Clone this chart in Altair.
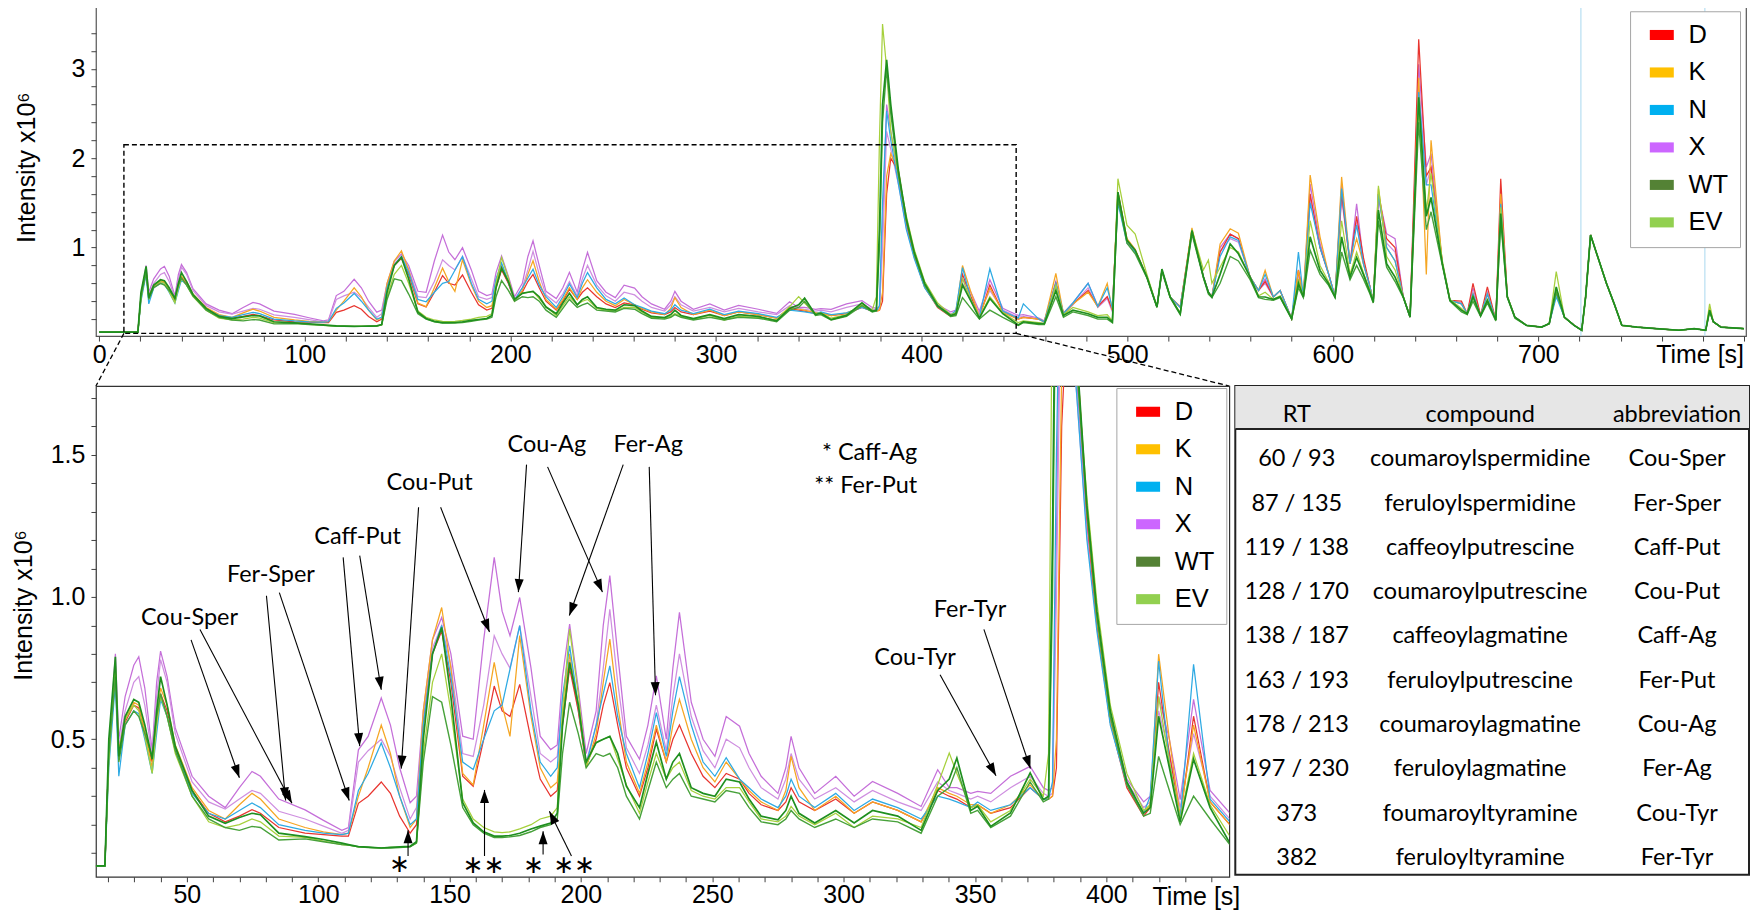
import math
import altair as alt
import pandas as pd

# ---------------- chromatogram data (time in s, intensity in 1e6) ----------------
T = [0, 10, 18.8, 20.3, 22.8, 24.1, 26.5, 29.8, 31.7, 34,
     36.8, 38.5, 40, 42.5, 45.6, 52, 58.3, 64.6, 70, 74.8,
     78, 85, 95, 102, 109, 111.5, 115.3, 119, 124, 127.5,
     131, 135, 137.4, 140, 143.5, 147, 150.5, 155, 159, 163,
     167, 170, 173, 176.7, 181, 184.5, 188.5, 191, 193, 195.7,
     199, 202, 205.8, 208.5, 211, 214, 217.3, 222.3, 225.5, 228.7,
     232.5, 235, 237.5, 242, 246.5, 251, 255.3, 260.4, 264, 268.6,
     275, 278, 280, 283, 289, 297, 304, 311, 320.6, 329.5,
     335.8, 340.2, 343.1, 348.4, 351, 356, 363.5, 371, 376, 378,
     379.5, 381, 383, 385, 388.8, 392.6, 396.4, 401.5, 407.8, 414.2,
     416.7, 419.9, 424, 428.1, 433.2, 439.5, 447, 449.5, 457, 459.7,
     465.3, 469, 473.6, 481, 485.7, 490.3, 492.8, 495.5, 499.9, 503.9,
     509.6, 514.5, 516.9, 520.9, 525.8, 531.5, 537.1, 539.5, 541.2, 545.2,
     550.1, 554.1, 559.8, 563.9, 567.1, 571.1, 574.4, 580, 583.3, 585.7,
     589, 593.8, 597.9, 601.1, 604.3, 608.4, 611.6, 614.9, 618.1, 619.7,
     622.2, 626.2, 630.3, 634.3, 637.6, 641.8, 645.5, 647.8, 653.3, 657,
     662.6, 665.4, 668.2, 671.9, 675.2, 679.3, 681.7, 684.9, 688.6, 694.2,
     701.6, 705.3, 708.7, 712.7, 717.4, 721.1, 723, 725.4, 729.4, 733.1,
     736.9, 740.6, 748, 757.3, 768.4, 775.8, 781.4, 783.3, 785.1, 788.8,
     800]

D = [.055, .055, .055, .45, .72, .45, .56, .62, .61, .52,
     .42, .55, .66, .60, .47, .32, .24, .21, .23, .253,
     .24, .19, .17, .165, .16, .16, .275, .30, .35, .31,
     .23, .17, .20, .55, .80, .88, .70, .37, .335, .50,
     .687, .60, .58, .693, .50, .36, .30, .32, .55, .75,
     .60, .406, .50, .62, .699, .55, .40, .30, .40, .535,
     .42, .50, .55, .45, .37, .33, .38, .36, .31, .27,
     .25, .28, .33, .28, .25, .29, .24, .28, .25, .21,
     .32, .30, .29, .26, .27, .24, .26, .33, .29, .29,
     .30, .40, 1.6, 2.0, 1.85, 1.28, .90, .56, .33, .23,
     .26, .70, .45, .22, .581, .28, .20, .22, .20, .17,
     .60, .26, .37, .52, .34, .45, .30, 1.62, 1.08, .97,
     .67, .335, .745, .447, .335, 1.19, .67, .50, .447, .95,
     1.15, 1.10, .67, .52, .62, .447, .52, .205, .745, .447,
     1.60, 1.00, .71, .447, 1.60, .82, 1.35, .89, .56, .39,
     1.60, 1.10, 1.00, .447, .224, 3.33, 1.80, 1.90, .82, .41,
     .40, .26, .60, .24, .56, .19, 1.77, .45, .22, .13,
     .11, .15, .50, .22, .13, .075, .45, 1.14, .86, .60,
     .37, .13, .11, .093, .075, .093, .075, .30, .17, .11,
     .093]

K = [.055, .055, .055, .45, .74, .46, .57, .63, .62, .53,
     .40, .56, .68, .62, .48, .33, .25, .22, .27, .31,
     .29, .22, .19, .175, .165, .17, .30, .40, .55, .45,
     .30, .19, .22, .60, .85, .963, .75, .38, .34, .55,
     .77, .62, .51, .864, .58, .40, .33, .35, .58, .80,
     .62, .40, .52, .70, .852, .62, .42, .31, .42, .55,
     .42, .55, .64, .50, .40, .35, .42, .36, .32, .28,
     .25, .32, .44, .33, .25, .30, .24, .28, .25, .21,
     .33, .31, .30, .27, .27, .24, .27, .34, .29, .29,
     .30, .50, 1.8, 2.05, 1.85, 1.3, .92, .56, .34, .24,
     .27, .799, .50, .23, .55, .28, .20, .22, .20, .17,
     .71, .26, .37, .50, .34, .60, .30, 1.62, 1.10, .98,
     .67, .335, .745, .447, .335, 1.22, .67, .50, .447, 1.04,
     1.21, 1.16, .67, .52, .745, .447, .52, .205, .745, .447,
     1.81, 1.12, .71, .447, 1.79, .82, 1.10, .82, .56, .39,
     1.66, 1.00, .85, .447, .224, 2.90, .70, 2.20, .82, .41,
     .37, .26, .48, .24, .48, .19, 1.60, .45, .22, .13,
     .11, .15, .50, .22, .13, .075, .45, 1.14, .86, .60,
     .37, .13, .11, .093, .075, .093, .075, .32, .17, .11,
     .093]

N = [.055, .055, .055, .40, .70, .37, .55, .60, .59, .50,
     .38, .52, .64, .58, .46, .31, .24, .22, .25, .276,
     .26, .20, .18, .17, .165, .17, .32, .38, .487, .40,
     .30, .20, .22, .55, .80, .90, .72, .42, .394, .50,
     .60, .62, .746, .899, .60, .42, .37, .40, .65, .828,
     .62, .41, .55, .66, .758, .58, .45, .33, .45, .594,
     .44, .60, .72, .55, .42, .37, .435, .36, .33, .29,
     .26, .30, .36, .30, .26, .31, .25, .29, .26, .22,
     .30, .29, .28, .26, .28, .25, .27, .33, .29, .29,
     .35, 1.5, 2.53, 2.2, 1.7, 1.2, .88, .55, .34, .24,
     .30, .775, .42, .22, .763, .29, .21, .37, .20, .17,
     .60, .26, .38, .60, .34, .55, .32, 1.50, 1.05, .95,
     .67, .335, .745, .447, .33, 1.17, .67, .50, .447, .90,
     1.12, 1.08, .67, .52, .70, .447, .52, .205, .95, .447,
     1.50, 1.00, .71, .447, 1.66, .82, 1.25, .82, .56, .39,
     1.60, 1.00, .85, .447, .224, 2.74, 1.70, 1.70, .82, .41,
     .37, .26, .48, .24, .48, .19, 1.49, .45, .22, .13,
     .11, .15, .45, .22, .13, .075, .45, 1.14, .86, .60,
     .37, .13, .11, .093, .075, .093, .075, .30, .17, .11,
     .093]

X = [.055, .055, .055, .45, .80, .50, .65, .76, .79, .68,
     .46, .70, .81, .72, .54, .37, .30, .26, .33, .387,
     .37, .29, .252, .215, .18, .19, .463, .51, .645, .55,
     .40, .277, .30, .60, .85, .928, .80, .511, .50, .85,
     1.139, .95, .864, .998, .75, .511, .464, .48, .72, .905,
     .68, .45, .60, .90, 1.075, .80, .51, .43, .55, .723,
     .50, .75, .946, .63, .50, .44, .58, .546, .45, .37,
     .31, .40, .51, .40, .31, .37, .30, .352, .31, .264,
     .393, .33, .33, .31, .317, .31, .37, .405, .33, .32,
     .33, 1.2, 2.6, 2.3, 1.75, 1.25, .92, .58, .36, .28,
     .30, .65, .50, .288, .64, .32, .241, .25, .21, .18,
     .62, .27, .38, .60, .35, .45, .30, 1.60, 1.08, .97,
     .67, .335, .745, .447, .34, 1.19, .67, .50, .447, 1.00,
     1.15, 1.10, .67, .52, .65, .447, .52, .205, .75, .447,
     1.71, 1.05, .71, .447, 1.70, .82, 1.49, .85, .56, .39,
     1.60, 1.155, 1.10, .447, .224, 3.05, 1.90, 2.05, .82, .41,
     .38, .26, .55, .24, .50, .19, 1.55, .45, .22, .13,
     .11, .15, .50, .22, .13, .075, .45, 1.14, .86, .60,
     .37, .13, .11, .093, .075, .093, .075, .30, .17, .11,
     .093]

X2 = [.055, .055, .055, .45, .76, .47, .60, .70, .72, .62,
      .44, .65, .78, .70, .52, .35, .28, .255, .29, .32,
      .31, .247, .22, .195, .17, .18, .42, .46, .50, .44,
      .33, .22, .26, .58, .82, .90, .76, .45, .44, .62,
      .864, .80, .75, .90, .65, .45, .42, .44, .65, .78,
      .60, .42, .55, .75, .957, .70, .47, .38, .48, .62,
      .46, .65, .80, .58, .46, .40, .50, .47, .40, .33,
      .29, .36, .45, .36, .29, .33, .28, .32, .28, .25,
      .35, .32, .31, .29, .30, .28, .33, .37, .31, .30,
      .31, 1.0, 2.3, 2.1, 1.7, 1.22, .90, .56, .35, .26,
      .28, .60, .45, .26, .52, .30, .22, .23, .20, .17,
      .58, .26, .36, .55, .33, .43, .28, 1.58, 1.06, .95,
      .67, .335, .745, .447, .33, 1.17, .67, .50, .447, .95,
      1.10, 1.06, .67, .52, .60, .447, .52, .205, .70, .447,
      1.55, 1.00, .71, .447, 1.55, .82, 1.30, .82, .56, .39,
      1.55, 1.05, .95, .447, .224, 2.85, 1.70, 1.90, .82, .41,
      .37, .26, .50, .24, .48, .19, 1.49, .45, .22, .13,
      .11, .15, .48, .22, .13, .075, .45, 1.14, .86, .60,
      .37, .13, .11, .093, .075, .093, .075, .30, .17, .11,
      .093]

WT = [.055, .055, .055, .50, .79, .44, .58, .64, .63, .55,
      .43, .60, .72, .62, .475, .32, .23, .205, .225, .24,
      .235, .17, .158, .148, .135, .13, .123, .121, .118, .12,
      .122, .124, .14, .50, .80, .893, .65, .277, .206, .175,
      .16, .16, .162, .17, .185, .195, .206, .24, .55, .77,
      .62, .42, .488, .50, .51, .45, .335, .26, .38, .49,
      .36, .42, .45, .33, .31, .30, .36, .35, .29, .23,
      .217, .25, .30, .24, .206, .25, .206, .25, .23, .18,
      .32, .36, .434, .25, .265, .194, .241, .382, .288, .30,
      1.2, 2.6, 3.1, 2.6, 1.85, 1.32, .95, .60, .35, .24,
      .26, .581, .40, .21, .43, .26, .135, .17, .15, .15,
      .52, .24, .30, .26, .22, .22, .168, 1.62, 1.08, .97,
      .67, .335, .76, .447, .26, 1.19, .67, .50, .447, .70,
      1.04, .93, .67, .45, .447, .42, .45, .205, .60, .447,
      1.12, .745, .60, .447, 1.12, .67, .89, .70, .50, .39,
      1.42, .82, .67, .447, .224, 2.68, 1.35, 1.56, .82, .41,
      .30, .26, .45, .24, .41, .19, 1.38, .45, .22, .13,
      .11, .15, .56, .22, .13, .075, .45, 1.14, .86, .60,
      .37, .13, .11, .093, .075, .093, .075, .30, .17, .11,
      .093]

WT2 = [.055, .055, .055, .45, .72, .42, .55, .60, .58, .52,
       .44, .58, .66, .58, .46, .30, .22, .19, .18, .194,
       .19, .146, .15, .14, .13, .128, .122, .12, .118, .118,
       .12, .122, .135, .42, .65, .63, .48, .26, .20, .17,
       .155, .155, .157, .162, .175, .19, .20, .22, .45, .63,
       .52, .40, .45, .44, .45, .40, .30, .22, .32, .42,
       .33, .36, .38, .30, .29, .28, .32, .31, .26, .21,
       .20, .22, .25, .22, .19, .22, .19, .22, .21, .17,
       .30, .33, .40, .24, .25, .19, .23, .35, .28, .29,
       1.0, 2.4, 3.0, 2.5, 1.8, 1.3, .93, .58, .34, .23,
       .24, .44, .32, .20, .30, .22, .13, .16, .14, .14,
       .45, .22, .28, .24, .20, .20, .16, 1.55, 1.05, .93,
       .66, .33, .73, .44, .25, 1.15, .66, .48, .44, .60,
       .90, .85, .64, .44, .42, .41, .44, .20, .55, .44,
       .97, .70, .58, .44, .95, .64, .80, .65, .48, .38,
       1.30, .78, .62, .44, .22, 2.40, 1.20, 1.40, .80, .40,
       .28, .25, .40, .23, .38, .18, 1.30, .44, .21, .13,
       .11, .15, .50, .22, .13, .075, .45, 1.14, .86, .60,
       .37, .13, .11, .093, .075, .093, .075, .28, .17, .11,
       .093]

EV = [.055, .055, .055, .42, .76, .45, .57, .62, .60, .51,
      .38, .55, .65, .58, .45, .30, .21, .19, .20, .22,
      .21, .16, .155, .142, .13, .128, .122, .12, .118, .12,
      .121, .124, .135, .45, .70, .80, .60, .29, .22, .19,
      .175, .172, .175, .185, .20, .22, .23, .26, .60, .887,
      .66, .41, .49, .50, .51, .43, .34, .24, .35, .45,
      .36, .40, .42, .32, .30, .29, .33, .33, .28, .22,
      .21, .23, .264, .23, .20, .24, .19, .23, .22, .19,
      .34, .452, .38, .26, .27, .21, .25, .36, .30, .45,
      2.2, 3.5, 3.0, 2.3, 1.8, 1.35, .98, .62, .38, .25,
      .27, .65, .42, .22, .45, .27, .16, .18, .16, .15,
      .58, .25, .33, .28, .24, .25, .18, 1.77, 1.25, 1.15,
      .70, .34, .75, .45, .27, 1.20, .75, .86, .60, .78,
      1.00, .95, .67, .46, .50, .42, .46, .21, .65, .45,
      1.30, .80, .62, .45, 1.30, .70, .95, .72, .52, .40,
      1.69, .90, .75, .45, .23, 2.60, 1.40, 1.83, .85, .42,
      .32, .26, .45, .24, .42, .19, 1.45, .46, .22, .13,
      .11, .15, .73, .22, .13, .075, .45, 1.14, .86, .60,
      .37, .13, .11, .093, .075, .093, .075, .37, .17, .11,
      .093]

GROUPS = ["D", "K", "N", "X", "WT", "EV"]
LEGEND_COLORS = ["#ff0000", "#ffc000", "#00b0f0", "#cc66ff", "#548235", "#92d050"]

SERIES = ["X", "X2", "D", "K", "N", "EV", "WT2", "WT"]
SERIES_COLORS = ["#c56fd9", "#cf8fe0", "#e8352f", "#f5a623", "#2eaae3", "#a6d03c", "#47a13a", "#1f8f1f"]
NONGREEN = ["X", "X2", "D", "K", "N"]
GREEN = ["EV", "WT2", "WT"]

# annotation data (bottom panel)
ANN_CENTER = [("Cou-Sper", 51.0, 0.927), ("Fer-Sper", 82.0, 1.077), ("Caff-Put", 115.0, 1.21),
              ("Cou-Put", 142.4, 1.40), ("Cou-Ag", 187.0, 1.534), ("Fer-Ag", 225.6, 1.534),
              ("Cou-Tyr", 327.2, 0.786), ("Fer-Tyr", 348.1, 0.953)]
ANN_STARS = [("∗", 131.0, 0.062), ("∗∗", 163.0, 0.058), ("∗", 182.0, 0.058), ("∗∗", 197.5, 0.058)]
ANN_RIGHT = [("* Caff-Ag", 328.0, 1.505), ("** Fer-Put", 328.0, 1.391)]
ARROWS = [(51.6, 0.849, 70.0, 0.365), (55.0, 0.886, 90.0, 0.275),
          (80.3, 1.004, 87.6, 0.285), (85.2, 1.015, 111.8, 0.285),
          (109.5, 1.139, 115.8, 0.476), (115.8, 1.145, 124.0, 0.674),
          (138.2, 1.315, 131.6, 0.397), (146.6, 1.315, 165.2, 0.877),
          (134.2, 0.09, 134.2, 0.18), (163.3, 0.09, 163.3, 0.322),
          (185.6, 0.095, 185.6, 0.177), (196.4, 0.09, 188.0, 0.247),
          (179.3, 1.465, 176.2, 1.017), (187.3, 1.457, 208.2, 1.017),
          (216.1, 1.465, 195.6, 0.935), (226.0, 1.457, 228.4, 0.655),
          (336.7, 0.727, 358.0, 0.372), (353.4, 0.886, 371.1, 0.397)]

# table
HEADER = ["RT", "compound", "abbreviation"]
RT = ["60 / 93", "87 / 135", "119 / 138", "128 / 170", "138 / 187",
      "163 / 193", "178 / 213", "197 / 230", "373", "382"]
COMPOUND = ["coumaroylspermidine", "feruloylspermidine", "caffeoylputrescine",
            "coumaroylputrescine", "caffeoylagmatine", "feruloylputrescine",
            "coumaroylagmatine", "feruloylagmatine", "foumaroyltyramine", "feruloyltyramine"]
ABBR = ["Cou-Sper", "Fer-Sper", "Caff-Put", "Cou-Put", "Caff-Ag",
        "Fer-Put", "Cou-Ag", "Fer-Ag", "Cou-Tyr", "Fer-Tyr"]

# ---------------- layout ----------------
TOP_W, TOP_H = 1651, 331
BOT_W, BOT_H = 1134, 491
TAB_W, TAB_H = 514, 489
VSPACE, HSPACE = 50, 6

TOP_X = [-1.6, 801.0]
TOP_Y = [0.01, 3.71]
BOT_X = [15.4, 446.8]
BOT_Y = [0.017, 1.741]

top_ppu = TOP_H / (TOP_Y[1] - TOP_Y[0])
bot_ppx = BOT_W / (BOT_X[1] - BOT_X[0])
bot_ppu = BOT_H / (BOT_Y[1] - BOT_Y[0])

AXFONT = "Liberation Sans"
ANNFONT = "Lato"
RECT = "M-1,-0.42H1V0.42H-1Z"

series_vals = {"D": D, "K": K, "N": N, "X": X, "X2": X2, "WT": WT, "WT2": WT2, "EV": EV}
rows = []
for s in SERIES:
    vals = series_vals[s]
    assert len(vals) == len(T), (s, len(vals), len(T))
    for t, v in zip(T, vals):
        rows.append({"t": t, "v": v, "series": s,
                     "sw": 1.7 if s == "WT" else (1.4 if s == "WT2" else 1.25)})
df = pd.DataFrame(rows)

stroke_scale = alt.Scale(domain=SERIES, range=SERIES_COLORS)


def legend_def(lx, ly):
    return alt.Legend(title=None, orient="none", legendX=lx, legendY=ly,
                      fillColor="white", strokeColor="#a6a6a6", padding=11,
                      symbolType=RECT, symbolSize=576, symbolStrokeWidth=0,
                      symbolOffset=8, labelOffset=14, rowPadding=10.5,
                      labelFontSize=25.5, labelFont=AXFONT, labelColor="black",
                      symbolOpacity=1)


def panel(xdom, ydom, xvals, xlabel_expr, yvals, ylabel_expr, title_pad, title_y, legend):
    xs = alt.Scale(domain=xdom, nice=False, zero=False)
    ys = alt.Scale(domain=ydom, nice=False, zero=False)
    xaxis = alt.Axis(values=xvals, labelExpr=xlabel_expr, labelFontSize=25, labelFont=AXFONT,
                     labelColor="black", tickSize=5, labelPadding=1, tickColor="#404040",
                     domain=False, grid=False, title=None, labelFlush=False, labelOverlap=False)
    yaxis = alt.Axis(values=yvals, labelExpr=ylabel_expr, labelFontSize=25, labelFont=AXFONT,
                     labelColor="black", tickSize=5, labelPadding=6, tickColor="#404040",
                     domain=False, grid=False, title="Intensity x10⁶", titleFont=AXFONT,
                     titleFontSize=25, titleFontWeight="normal", titleColor="black",
                     titlePadding=title_pad, titleY=title_y, labelOverlap=False)

    def ex(f="t"):
        return alt.X(f + ":Q", scale=xs, axis=xaxis)

    def ey(f="v"):
        return alt.Y(f + ":Q", scale=ys, axis=yaxis)

    layers = []
    for subset in (NONGREEN, GREEN):
        layers.append(alt.Chart(df[df.series.isin(subset)]).mark_line(clip=True).encode(
            x=ex(), y=ey(),
            stroke=alt.Stroke("series:N", scale=stroke_scale, legend=None),
            strokeWidth=alt.StrokeWidth("sw:Q", scale=None, legend=None),
        ))
    dummy = pd.DataFrame({"group": GROUPS, "t": [xdom[0] + 5] * 6, "v": [ydom[0] + 0.001] * 6})
    layers.append(alt.Chart(dummy).mark_point(clip=True, filled=True, shape=RECT, size=1,
                                              opacity=0).encode(
        x=ex(), y=ey(),
        color=alt.Color("group:N", scale=alt.Scale(domain=GROUPS, range=LEGEND_COLORS), legend=legend),
    ))
    return layers, ex, ey


# ---------------- top panel ----------------
top_layers, tex, tey = panel(
    TOP_X, TOP_Y, list(range(0, 801, 20)),
    "datum.value % 100 === 0 && datum.value <= 700 ? datum.label : ''",
    [round(0.2 * k, 1) for k in range(1, 18)],
    "abs(datum.value - round(datum.value)) < 1e-6 ? format(datum.value, 'd') : ''",
    32, 162, legend_def(1535, 6))

vlines = pd.DataFrame({"t": [720.7, 781.0]})
top_layers.insert(0, alt.Chart(vlines).mark_rule(color="#a9d8ef", strokeWidth=1).encode(x=tex()))

zoom_box = pd.DataFrame({"t": [12.0], "t2": [446.0], "v": [0.04], "v2": [2.15]})
top_layers.append(alt.Chart(zoom_box).mark_rect(filled=False, stroke="black", strokeWidth=1.4,
                                                strokeDash=[5, 3]).encode(
    x=tex(), x2="t2:Q", y=tey(), y2="v2:Q"))

y_conn = TOP_Y[0] - VSPACE / top_ppu
t_right = TOP_X[0] + BOT_W * (TOP_X[1] - TOP_X[0]) / TOP_W
conn = pd.DataFrame({"t": [12.0, 446.0], "v": [0.04, 0.04],
                     "t2": [TOP_X[0], t_right], "v2": [y_conn, y_conn]})
top_layers.append(alt.Chart(conn).mark_rule(clip=False, color="black", strokeWidth=1.3,
                                            strokeDash=[5, 3]).encode(
    x=tex(), x2="t2:Q", y=tey(), y2="v2:Q"))

time_top = pd.DataFrame({"t": [TOP_X[1]], "v": [TOP_Y[0] - 18.5 / top_ppu], "label": ["Time [s]"]})
top_layers.append(alt.Chart(time_top).mark_text(align="right", baseline="middle", fontSize=25,
                                                font=AXFONT, color="black", clip=False, dx=-2).encode(
    x=tex(), y=tey(), text="label:N"))

top = alt.layer(*top_layers).properties(width=TOP_W, height=TOP_H,
                                        view=alt.ViewBackground(stroke="#555555", strokeWidth=1.2))

# ---------------- bottom panel ----------------
bot_layers, bex, bey = panel(
    BOT_X, BOT_Y, list(range(20, 441, 10)),
    "datum.value % 50 === 0 && datum.value <= 400 ? datum.label : ''",
    [round(0.1 * k, 1) for k in range(1, 18)],
    "abs(datum.value * 2 - round(datum.value * 2)) < 1e-6 ? format(datum.value, '.1f') : ''",
    14, 219, legend_def(1021, 2))


def arrow_angle(t1, v1, t2, v2):
    dx = (t2 - t1) * bot_ppx
    dy = -(v2 - v1) * bot_ppu
    return math.degrees(math.atan2(dx, -dy)) % 360


arr = pd.DataFrame([{"t": a[0], "v": a[1], "t2": a[2], "v2": a[3],
                     "ang": arrow_angle(*a)} for a in ARROWS])
bot_layers.append(alt.Chart(arr).mark_rule(color="black", strokeWidth=1.1).encode(
    x=bex(), x2="t2:Q", y=bey(), y2="v2:Q"))
bot_layers.append(alt.Chart(arr).mark_point(shape="M0,0L-0.45,1.3L0.45,1.3Z", filled=True,
                                            color="black", size=400, opacity=1).encode(
    x=bex("t2"), y=bey("v2"), angle=alt.Angle("ang:Q", scale=None)))

ann_c = pd.DataFrame([{"label": a[0], "t": a[1], "v": a[2]} for a in ANN_CENTER])
bot_layers.append(alt.Chart(ann_c).mark_text(align="center", baseline="middle", fontSize=23.5,
                                             font=ANNFONT, color="black").encode(
    x=bex(), y=bey(), text="label:N"))
ann_s = pd.DataFrame([{"label": a[0], "t": a[1], "v": a[2]} for a in ANN_STARS])
bot_layers.append(alt.Chart(ann_s).mark_text(align="center", baseline="middle", fontSize=25,
                                             font="DejaVu Sans", color="black").encode(
    x=bex(), y=bey(), text="label:N"))
ann_r = pd.DataFrame([{"label": a[0], "t": a[1], "v": a[2]} for a in ANN_RIGHT])
bot_layers.append(alt.Chart(ann_r).mark_text(align="right", baseline="middle", fontSize=23.5,
                                             font=ANNFONT, color="black").encode(
    x=bex(), y=bey(), text="label:N"))

time_bot = pd.DataFrame({"t": [BOT_X[1]], "v": [BOT_Y[0] - 20.5 / bot_ppu], "label": ["Time [s]"]})
bot_layers.append(alt.Chart(time_bot).mark_text(align="right", baseline="middle", fontSize=25,
                                                font=AXFONT, color="black", clip=False, dx=11).encode(
    x=bex(), y=bey(), text="label:N"))

bottom = alt.layer(*bot_layers).properties(width=BOT_W, height=BOT_H,
                                           view=alt.ViewBackground(stroke="#333333", strokeWidth=1.2))

# ---------------- table ----------------
COL_X = [61.5, 245.0, 442.0]
ROW_TOP, ROW_HEAD_END, ROW_BOTTOM = -0.655, 0.316, 10.38
tab_rows = []
for j, h in enumerate(HEADER):
    tab_rows.append({"x": COL_X[j], "y": 0, "label": h})
for i in range(len(RT)):
    for j, col in enumerate((RT, COMPOUND, ABBR)):
        tab_rows.append({"x": COL_X[j], "y": i + 1, "label": col[i]})
tab_df = pd.DataFrame(tab_rows)

txs = alt.Scale(domain=[0, TAB_W], nice=False, zero=False)
tys = alt.Scale(domain=[ROW_TOP, ROW_BOTTOM], nice=False, zero=False, reverse=True)
head_df = pd.DataFrame({"x": [0], "x2": [TAB_W], "y": [ROW_TOP], "y2": [ROW_HEAD_END]})
head_rect = alt.Chart(head_df).mark_rect(fill="#e6e6e6").encode(
    x=alt.X("x:Q", scale=txs, axis=None), x2="x2:Q",
    y=alt.Y("y:Q", scale=tys, axis=None), y2="y2:Q")
head_line = alt.Chart(head_df).mark_rule(color="#222222", strokeWidth=2).encode(
    x=alt.X("x:Q", scale=txs, axis=None), x2="x2:Q",
    y=alt.Y("y2:Q", scale=tys, axis=None))
tab_text = alt.Chart(tab_df).mark_text(fontSize=23.5, font=ANNFONT, color="black",
                                       baseline="middle", align="center").encode(
    x=alt.X("x:Q", scale=txs, axis=None), y=alt.Y("y:Q", scale=tys, axis=None), text="label:N")
table = alt.layer(head_rect, head_line, tab_text).properties(
    width=TAB_W, height=TAB_H, view=alt.ViewBackground(stroke="#222222", strokeWidth=2))

bottom_row = alt.hconcat(bottom, table, spacing=HSPACE, bounds="flush").resolve_scale(
    x="independent", y="independent", color="independent", stroke="independent")

chart = alt.vconcat(top, bottom_row, spacing=VSPACE, bounds="flush").resolve_scale(
    x="independent", y="independent", color="independent", stroke="independent"
).resolve_legend(color="independent").properties(
    padding={"left": 2, "top": -5, "right": 0, "bottom": 0}
).configure(background="white")

chart.save("out.html", embed_options={"renderer": "svg", "actions": False})
